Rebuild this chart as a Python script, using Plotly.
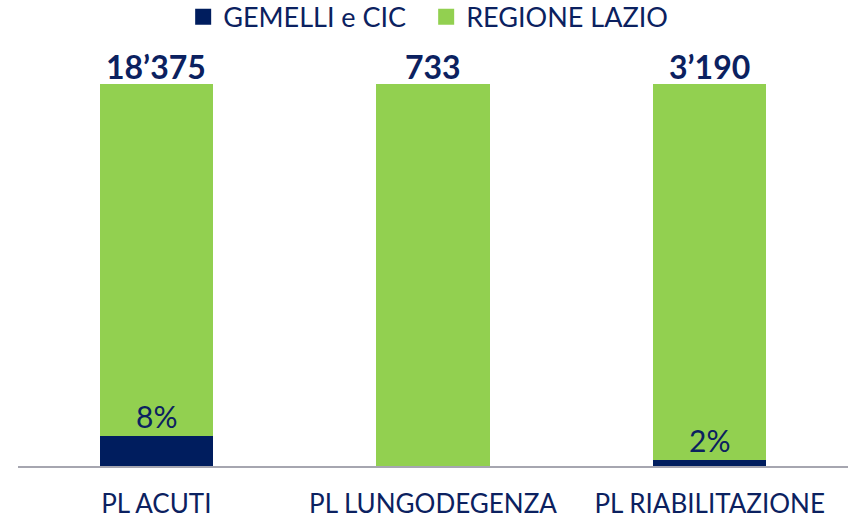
import plotly.graph_objects as go

categories = ["PL ACUTI", "PL LUNGODEGENZA", "PL RIABILITAZIONE"]
gemelli_share = [7.9, 0, 1.6]
gemelli_labels = ["8%", "", "2%"]
totals_labels = ["18’375", "733", "3’190"]
lazio_share = [100 - v for v in gemelli_share]

NAVY = "#001D5E"
GREEN = "#92D050"
TEXT = "#0B2160"
FONT = "Lato"

fig = go.Figure()
fig.add_trace(go.Bar(name="GEMELLI e CIC", x=categories, y=gemelli_share,
                     marker=dict(color=NAVY, line=dict(width=0)), showlegend=False))
fig.add_trace(go.Bar(name="REGIONE LAZIO", x=categories, y=lazio_share,
                     marker=dict(color=GREEN, line=dict(width=0)), showlegend=False))
# legend entries with larger square swatches
for name, col in [("GEMELLI e CIC", NAVY), ("REGIONE LAZIO", GREEN)]:
    fig.add_trace(go.Scatter(name=name, x=[None], y=[None], mode="markers",
                             marker=dict(symbol="square", size=17, color=col)))

for c, t in zip(categories, totals_labels):
    fig.add_annotation(x=c, y=100, text=f"<b>{t}</b>", showarrow=False,
                       yanchor="bottom", yshift=-4,
                       font=dict(family=FONT, size=32, color=TEXT))
for c, v, lab in zip(categories, gemelli_share, gemelli_labels):
    if lab:
        fig.add_annotation(x=c, y=v, text=lab, showarrow=False,
                           yanchor="bottom", yshift=0,
                           font=dict(family=FONT, size=30, color=TEXT))

fig.update_layout(
    width=848, height=520,
    barmode="stack", bargap=0.59,
    plot_bgcolor="white", paper_bgcolor="white",
    margin=dict(l=18, r=0, t=84, b=54, autoexpand=False),
    font=dict(family=FONT, color=TEXT),
    legend=dict(orientation="h", x=0.199, xanchor="left", y=1.175, yanchor="middle",
                font=dict(family=FONT, size=27, color=TEXT), traceorder="normal",
                itemsizing="trace", itemwidth=30, entrywidth=198),
    showlegend=True,
)
fig.update_xaxes(showline=True, linecolor="#A6A6B0", linewidth=2,
                 tickfont=dict(family=FONT, size=26, color=TEXT),
                 ticks="", ticklabelstandoff=14, automargin=False, fixedrange=True)
fig.update_yaxes(range=[0, 100], visible=False, showgrid=False, fixedrange=True)

fig.write_html("out.html", config={"displayModeBar": False},
               post_script="document.body.style.margin='0';")
